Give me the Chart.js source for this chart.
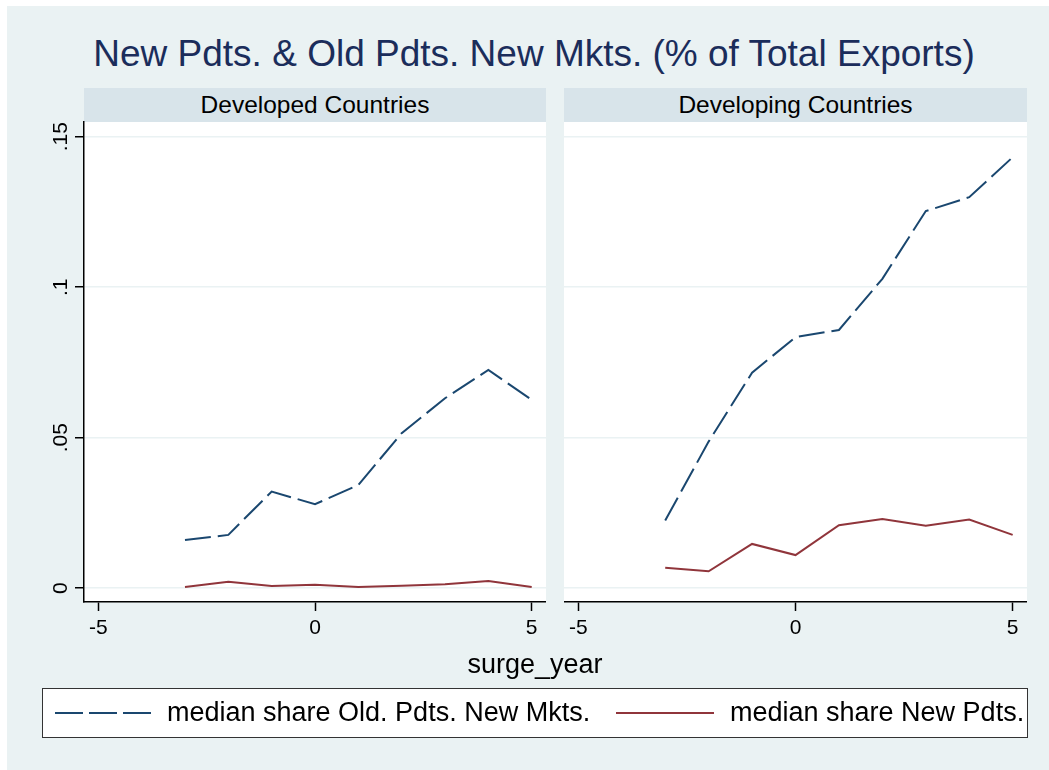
<!DOCTYPE html>
<html>
<head>
<meta charset="utf-8">
<title>New Pdts. & Old Pdts. New Mkts.</title>
<script src="https://cdn.jsdelivr.net/npm/chart.js@4.4.1/dist/chart.umd.min.js"></script>
<style>
    body { margin: 0; width: 1049px; height: 770px; overflow: hidden; background: #fff;
           font-family: "Liberation Sans", Arial, sans-serif; }
    .abs { position: absolute; }
    #bg { left: 7px; top: 6px; width: 1042px; height: 764px; background: #eaf2f3; }
    #title { left: 34px; width: 1000px; top: 35px; text-align: center; font-size: 37px;
             line-height: 37px; color: #1b2d5b; white-space: nowrap; }
    .strip { top: 88px; height: 34px; line-height: 34px; background: #d8e4ea; text-align: center;
             font-size: 24.5px; color: #000; white-space: nowrap; }
    #xtitle { left: 35px; width: 1000px; top: 651px; text-align: center; font-size: 27px;
              line-height: 27px; color: #000; }
    #legend { left: 42px; top: 688px; width: 984px; height: 48px; background: #fff;
              border: 1px solid #333; }
    .legtext { top: 699px; font-size: 27px; line-height: 27px; color: #000; white-space: nowrap; }
</style>
</head>
<body>
<div id="bg" class="abs"></div>
<div id="title" class="abs">New Pdts. &amp; Old Pdts. New Mkts. (% of Total Exports)</div>
<div class="abs strip" style="left:84px;width:462px;">Developed Countries</div>
<div class="abs strip" style="left:564px;width:463px;">Developing Countries</div>
<canvas id="left" class="abs" style="left:0px;top:112px;" width="546" height="540"></canvas>
<canvas id="right" class="abs" style="left:564px;top:112px;" width="463" height="540"></canvas>
<div id="xtitle" class="abs">surge_year</div>
<div id="legend" class="abs">
    <svg width="984" height="48" style="position:absolute;left:0;top:0;">
        <line x1="12" y1="24" x2="109" y2="24" stroke="#1a476f" stroke-width="2" stroke-dasharray="28 6"/>
        <line x1="573" y1="24" x2="671" y2="24" stroke="#90353b" stroke-width="2"/>
    </svg>
</div>
<div class="abs legtext" style="left:167px;">median share Old. Pdts. New Mkts.</div>
<div class="abs legtext" style="left:730px;">median share New Pdts.</div>

<script>
// surge years on the x axis
const years = [-3, -2, -1, 0, 1, 2, 3, 4, 5];

// Developed countries
const devOldPdtsNewMkts = [0.016, 0.0177, 0.0321, 0.0279, 0.0343, 0.0515, 0.0631, 0.0725, 0.0626];
const devNewPdts = [0.0004, 0.0021, 0.0007, 0.0011, 0.0004, 0.0008, 0.0013, 0.0024, 0.0004];

// Developing countries
const dvgOldPdtsNewMkts = [0.0225, 0.0487, 0.0716, 0.0834, 0.0858, 0.1028, 0.1253, 0.1299, 0.1432];
const dvgNewPdts = [0.0068, 0.0056, 0.0147, 0.011, 0.0209, 0.023, 0.0207, 0.0228, 0.0177];

const xTicks = [-5, 0, 5];
const yTicks = [0, 0.05, 0.1, 0.15];
const yTickLabels = ['0', '.05', '.1', '.15'];

const FONT = '"Liberation Sans", Arial, sans-serif';
const NAVY = '#1a476f';
const MAROON = '#90353b';
const GRID = '#eaf2f3';

function points(vals) {
    return years.map((yr, i) => ({ x: yr, y: vals[i] }));
}

// white plot region
const plotBg = {
    id: 'plotBg',
    beforeDraw(chart) {
        const a = chart.chartArea, ctx = chart.ctx;
        ctx.save();
        ctx.fillStyle = '#fff';
        ctx.fillRect(a.left, a.top, a.right - a.left, a.bottom - a.top);
        ctx.restore();
    }
};

// stata style vertical y labels
const yLabels = {
    id: 'yLabels',
    afterDraw(chart) {
        const ctx = chart.ctx, sc = chart.scales.y;
        ctx.save();
        ctx.font = '21px ' + FONT;
        ctx.fillStyle = '#000';
        ctx.textAlign = 'center';
        ctx.textBaseline = 'alphabetic';
        yTicks.forEach((v, i) => {
            ctx.save();
            ctx.translate(67, sc.getPixelForValue(v));
            ctx.rotate(-Math.PI / 2);
            ctx.fillText(yTickLabels[i], 0, 0);
            ctx.restore();
        });
        ctx.restore();
    }
};

function makePanel(id, oldVals, newVals, withYAxis) {
    const ctx = document.getElementById(id).getContext('2d');
    return new Chart(ctx, {
        type: 'line',
        data: {
            datasets: [{
                label: 'median share Old. Pdts. New Mkts.',
                data: points(oldVals),
                borderColor: NAVY,
                borderWidth: 2,
                borderDash: [26, 7],
                pointRadius: 0,
                tension: 0,
                fill: false
            }, {
                label: 'median share New Pdts.',
                data: points(newVals),
                borderColor: MAROON,
                borderWidth: 2,
                pointRadius: 0,
                tension: 0,
                fill: false
            }]
        },
        options: {
            responsive: false,
            animation: false,
            layout: { padding: { top: 10, left: 0, right: 0, bottom: 0 } },
            plugins: {
                legend: { display: false },
                tooltip: { enabled: false }
            },
            scales: {
                x: {
                    type: 'linear',
                    min: -5.33,
                    max: 5.33,
                    afterBuildTicks: s => { s.ticks = xTicks.map(v => ({ value: v })); },
                    afterFit: s => { s.height = 50; },
                    grid: { drawOnChartArea: false, drawTicks: true, tickLength: 9, tickColor: '#000', tickWidth: 1.5 },
                    border: { display: true, color: '#000', width: 1.5 },
                    ticks: { color: '#000', padding: 5, font: { family: FONT, size: 21 }, maxRotation: 0 }
                },
                y: {
                    type: 'linear',
                    min: -0.0046,
                    max: 0.1549,
                    afterBuildTicks: s => { s.ticks = yTicks.map(v => ({ value: v })); },
                    afterFit: s => { s.width = withYAxis ? 84 : 0; },
                    grid: {
                        color: GRID,
                        lineWidth: 1.5,
                        drawTicks: withYAxis,
                        tickLength: 9,
                        tickColor: '#000',
                        tickWidth: 1.5
                    },
                    border: { display: withYAxis, color: '#000', width: 1.5 },
                    ticks: { display: false }
                }
            }
        },
        plugins: withYAxis ? [plotBg, yLabels] : [plotBg]
    });
}

makePanel('left', devOldPdtsNewMkts, devNewPdts, true);
makePanel('right', dvgOldPdtsNewMkts, dvgNewPdts, false);
</script>
</body>
</html>
